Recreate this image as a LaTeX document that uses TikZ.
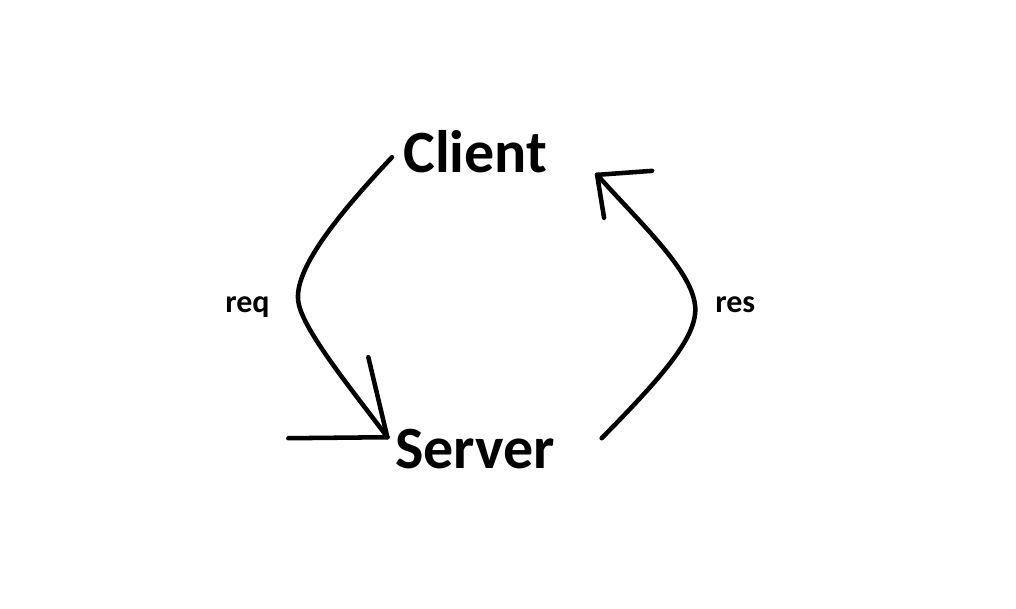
\documentclass[tikz,border=0pt]{standalone}
\usepackage{fontspec}
\setmainfont{Carlito}
\usepackage{xcolor}
\usepackage{tikz}

\begin{document}
\begin{tikzpicture}[x=0.75pt,y=0.75pt,yscale=-1,xscale=1]
\tikzset{
  stroke/.style={line width=3.4pt, line cap=round, line join=round},
  bigword/.style={anchor=base west, inner sep=0.75pt, font=\bfseries\fontsize{45}{50}\selectfont},
  smallword/.style={anchor=base west, inner sep=0.75pt, font=\bfseries\fontsize{24}{28}\selectfont}
}
%set diagram left start at 0, and has height of 608
\path [use as bounding box] (0,0) rectangle (1016,608);

% Text Node
\node [bigword] (client) at (402,172) {Client};
% Text Node
\node [bigword] (server) at (394,468) {Server};
% Text Node
\node [smallword] (req) at (224,312) {req};
% Text Node
\node [smallword] (res) at (714,312) {res};

% ends of the curves
\coordinate (reqtail) at ([xshift=-7.5pt,yshift=4.5pt]client.west);
\coordinate (reqtip) at ([xshift=-5pt,yshift=-8.5pt]server.west);
\coordinate (restail) at ([xshift=34pt,yshift=-7.75pt]server.east);
\coordinate (restip) at ([xshift=36.5pt,yshift=17.75pt]client.east);

%Curve Lines: req
\draw [stroke] (reqtail) .. controls ++(-62,66) and ++(-8,-30) .. (299,305) .. controls ++(7,30) and ++(-27,-37) .. (reqtip);
\draw [stroke] (reqtip) -- ++(-99,1);
\draw [stroke] (reqtip) -- ++(-19,-80);

%Curve Lines: res
\draw [stroke] (restail) .. controls ++(62,-63) and ++(4,30) .. (695,305) .. controls ++(-4,-35) and ++(45,50) .. (restip);
\draw [stroke] (restip) -- ++(55,-4);
\draw [stroke] (restip) -- ++(7,43);
\end{tikzpicture}
\end{document}
